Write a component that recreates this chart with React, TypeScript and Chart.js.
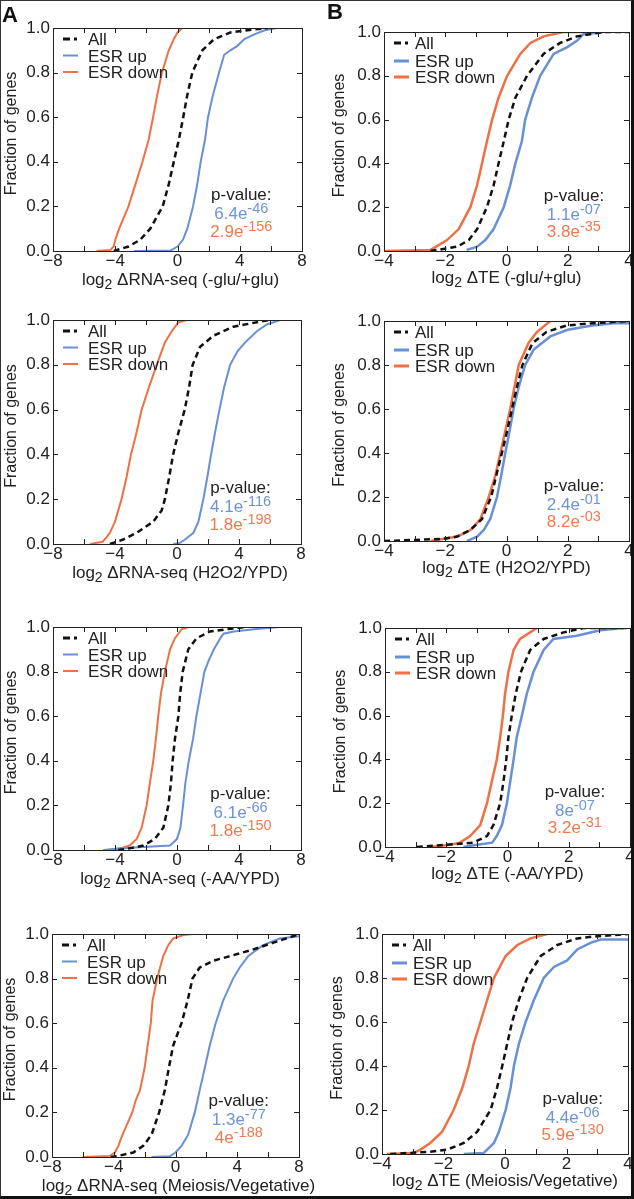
import React, { useEffect, useRef } from "react";
import { Chart, registerables } from "chart.js";

Chart.register(...registerables);

const FONT = '"Liberation Sans", Arial, Helvetica, sans-serif';
const BLUE = "#6890d4";
const ORANGE = "#ef7044";
const BLUE_TXT = "#6d93d8";
const ORANGE_TXT = "#f07a4e";
const INK = "#222222";

type Pt = [number, number];

// ---------- tick labels ----------
const fractionTicks = [0, 0.2, 0.4, 0.6, 0.8, 1.0];
const rnaTicks = [-8, -4, 0, 4, 8];
const rnaMinorTicks = [-8, -6, -4, -2, 0, 2, 4, 6, 8];
const teTicks = [-4, -2, 0, 2, 4];
const teMinorTicks = [-4, -3, -2, -1, 0, 1, 2, 3, 4];
const seriesLabels = ["All", "ESR up", "ESR down"];

// ---------- x-axis titles ----------
const rnaTitles = [
  "ΔRNA-seq (-glu/+glu)",
  "ΔRNA-seq (H2O2/YPD)",
  "ΔRNA-seq (-AA/YPD)",
  "ΔRNA-seq (Meiosis/Vegetative)",
];
const teTitles = [
  "ΔTE (-glu/+glu)",
  "ΔTE (H2O2/YPD)",
  "ΔTE (-AA/YPD)",
  "ΔTE (Meiosis/Vegetative)",
];

// ---------- p-values (A1..A4, B1..B4) ----------
const pUpMantissa = ["6.4e", "4.1e", "6.1e", "1.3e", "1.1e", "2.4e", "8e", "4.4e"];
const pUpExponent = ["-46", "-116", "-66", "-77", "-07", "-01", "-07", "-06"];
const pDownMantissa = ["2.9e", "1.8e", "1.8e", "4e", "3.8e", "8.2e", "3.2e", "5.9e"];
const pDownExponent = ["-156", "-198", "-150", "-188", "-35", "-03", "-31", "-130"];

// ---------- cumulative distributions [log2 change, fraction of genes] ----------
const a1All: Pt[] = [[-4.1,0],[-3.15,0.02],[-2.4,0.05],[-1.75,0.1],[-0.95,0.2],[-0.56,0.3],[-0.24,0.4],[0.09,0.5],[0.37,0.6],[0.63,0.7],[0.95,0.8],[1.27,0.85],[1.6,0.9],[2.35,0.95],[3.4,0.98],[4.5,0.99],[5.8,1]];
const a1Up: Pt[] = [[-2.8,0],[-0.45,0.002],[0.0,0.02],[0.35,0.05],[0.63,0.1],[1.0,0.2],[1.27,0.3],[1.49,0.4],[1.77,0.5],[1.96,0.6],[2.28,0.7],[2.67,0.8],[3.0,0.88],[3.4,0.9],[3.85,0.92],[4.3,0.95],[4.9,0.97],[5.6,0.99],[6.4,1]];
const a1Down: Pt[] = [[-5.2,0],[-4.3,0.005],[-4.1,0.02],[-4.0,0.05],[-3.75,0.1],[-3.15,0.2],[-2.7,0.3],[-2.25,0.4],[-1.85,0.5],[-1.57,0.6],[-1.3,0.7],[-1.0,0.8],[-0.56,0.9],[-0.24,0.95],[0.0,0.98],[0.3,1],[1.05,1]];

const a2All: Pt[] = [[-4.33,0],[-3.47,0.02],[-2.6,0.05],[-1.53,0.1],[-0.99,0.15],[-0.78,0.2],[-0.5,0.3],[-0.25,0.4],[0.1,0.5],[0.5,0.6],[0.78,0.7],[1.01,0.8],[1.49,0.88],[2.35,0.93],[3.64,0.97],[5.15,0.99],[6.0,1]];
const a2Up: Pt[] = [[-0.24,0],[0.2,0.005],[0.52,0.02],[1.06,0.05],[1.38,0.1],[1.7,0.2],[1.96,0.3],[2.2,0.4],[2.46,0.5],[2.74,0.6],[3.04,0.7],[3.43,0.8],[3.9,0.86],[4.4,0.9],[5.15,0.95],[5.8,0.98],[6.66,1],[8,1]];
const a2Down: Pt[] = [[-5.6,0],[-4.8,0.01],[-4.55,0.03],[-4.33,0.05],[-4.0,0.1],[-3.58,0.2],[-3.25,0.3],[-2.97,0.4],[-2.6,0.5],[-2.28,0.6],[-1.81,0.7],[-1.31,0.8],[-0.78,0.9],[-0.34,0.95],[0.1,0.99],[0.63,1]];

const a3All: Pt[] = [[-3.8,0],[-3.24,0.005],[-2.17,0.02],[-1.42,0.05],[-0.88,0.1],[-0.56,0.2],[-0.39,0.3],[-0.28,0.4],[-0.13,0.5],[0.09,0.6],[0.2,0.7],[0.37,0.8],[0.73,0.9],[1.27,0.95],[2.13,0.98],[3.2,0.99],[4.5,1]];
const a3Up: Pt[] = [[-4.76,0],[-3.0,0.01],[-0.45,0.02],[0.0,0.05],[0.22,0.1],[0.39,0.2],[0.54,0.3],[0.76,0.4],[1.04,0.5],[1.25,0.6],[1.51,0.7],[1.77,0.8],[2.05,0.85],[2.38,0.9],[2.8,0.95],[3.0,0.97],[3.67,0.98],[4.97,0.99],[6.6,1]];
const a3Down: Pt[] = [[-4.5,0],[-3.5,0.01],[-3.05,0.02],[-2.6,0.05],[-2.28,0.1],[-1.96,0.2],[-1.75,0.3],[-1.53,0.4],[-1.36,0.5],[-1.21,0.6],[-1.04,0.7],[-0.78,0.8],[-0.45,0.9],[-0.13,0.95],[0.3,0.99],[0.73,1]];

const a4All: Pt[] = [[-4.2,0],[-3.7,0.005],[-2.74,0.02],[-2.09,0.05],[-1.55,0.1],[-1.06,0.2],[-0.69,0.3],[-0.43,0.4],[-0.15,0.5],[0.39,0.6],[0.78,0.7],[1.1,0.8],[1.57,0.85],[2.44,0.88],[3.5,0.9],[5.0,0.93],[6.3,0.96],[7.6,0.99],[8,1]];
const a4Up: Pt[] = [[-1.55,0],[-0.37,0.003],[0.0,0.02],[0.39,0.05],[0.82,0.1],[1.25,0.2],[1.57,0.3],[1.9,0.4],[2.22,0.5],[2.6,0.6],[3.08,0.7],[3.73,0.8],[4.16,0.85],[4.7,0.9],[5.67,0.95],[6.75,0.98],[8,0.99]];
const a4Down: Pt[] = [[-6.0,0],[-4.25,0.005],[-3.92,0.02],[-3.7,0.05],[-3.43,0.1],[-2.8,0.2],[-2.6,0.25],[-2.3,0.3],[-2.0,0.4],[-1.8,0.5],[-1.6,0.6],[-1.49,0.7],[-1.19,0.8],[-0.8,0.9],[-0.47,0.95],[-0.15,0.98],[0.5,0.995],[1.14,1]];

const b1All: Pt[] = [[-2.48,0],[-1.6,0.02],[-1.23,0.05],[-0.96,0.1],[-0.64,0.2],[-0.42,0.3],[-0.26,0.4],[-0.09,0.5],[0.07,0.6],[0.29,0.7],[0.67,0.8],[1.21,0.9],[1.75,0.95],[2.3,0.98],[3.17,1],[4,1]];
const b1Up: Pt[] = [[-1.3,0.005],[-0.96,0.02],[-0.69,0.05],[-0.42,0.1],[-0.09,0.2],[0.12,0.3],[0.29,0.4],[0.5,0.5],[0.61,0.6],[0.83,0.7],[1.1,0.8],[1.32,0.85],[1.54,0.9],[1.97,0.93],[2.3,0.96],[2.51,0.99],[3.17,1]];
const b1Down: Pt[] = [[-4,0],[-2.48,0.005],[-2.3,0.02],[-1.94,0.05],[-1.56,0.1],[-1.18,0.2],[-0.96,0.3],[-0.8,0.4],[-0.64,0.5],[-0.47,0.6],[-0.26,0.7],[0.02,0.8],[0.45,0.9],[0.78,0.95],[1.21,0.98],[1.86,1],[2.5,1]];

const b2All: Pt[] = [[-4,0],[-2.05,0.01],[-1.61,0.02],[-1.18,0.05],[-0.8,0.1],[-0.5,0.2],[-0.33,0.3],[-0.15,0.4],[0.02,0.5],[0.18,0.6],[0.34,0.7],[0.52,0.8],[0.85,0.9],[1.3,0.95],[1.97,0.98],[2.84,0.99],[4,1]];
const b2Up: Pt[] = [[-1.29,0],[-0.96,0.02],[-0.74,0.05],[-0.53,0.1],[-0.31,0.2],[-0.17,0.3],[-0.04,0.4],[0.1,0.5],[0.23,0.6],[0.4,0.7],[0.61,0.8],[0.89,0.87],[1.43,0.93],[2.0,0.96],[2.8,0.98],[3.5,0.99],[4,0.99]];
const b2Down: Pt[] = [[-2.48,0],[-1.61,0.02],[-1.18,0.05],[-0.85,0.1],[-0.58,0.2],[-0.36,0.3],[-0.2,0.4],[-0.04,0.5],[0.12,0.6],[0.26,0.7],[0.4,0.8],[0.72,0.9],[0.99,0.95],[1.43,1]];

const b3All: Pt[] = [[-2.96,0],[-1.11,0.02],[-0.67,0.05],[-0.46,0.1],[-0.24,0.2],[-0.13,0.3],[-0.04,0.4],[0.03,0.5],[0.14,0.6],[0.27,0.7],[0.44,0.8],[0.74,0.9],[1.18,0.95],[1.83,0.98],[2.48,1],[4,1]];
const b3Up: Pt[] = [[-1.44,0],[-1.0,0.01],[-0.5,0.02],[-0.35,0.05],[-0.18,0.1],[-0.02,0.2],[0.09,0.3],[0.2,0.4],[0.3,0.5],[0.47,0.6],[0.63,0.7],[0.85,0.8],[1.18,0.9],[1.5,0.95],[2.26,0.965],[3.03,0.99],[3.8,1]];
const b3Down: Pt[] = [[-2.52,0],[-1.87,0.01],[-1.55,0.02],[-1.22,0.05],[-0.89,0.1],[-0.67,0.2],[-0.51,0.3],[-0.35,0.4],[-0.24,0.5],[-0.15,0.6],[-0.08,0.7],[0.03,0.8],[0.2,0.9],[0.41,0.95],[0.96,1]];

const b4All: Pt[] = [[-3.73,0],[-2.43,0.01],[-1.88,0.02],[-1.34,0.05],[-0.91,0.1],[-0.47,0.2],[-0.26,0.3],[-0.09,0.4],[0.07,0.5],[0.23,0.6],[0.45,0.7],[0.72,0.8],[1.16,0.9],[1.7,0.95],[2.35,0.98],[3.0,0.99],[4,1]];
const b4Up: Pt[] = [[-1.34,0],[-0.69,0.005],[-0.58,0.02],[-0.36,0.05],[-0.2,0.1],[0.02,0.2],[0.18,0.3],[0.29,0.4],[0.45,0.5],[0.67,0.6],[0.94,0.7],[1.26,0.8],[1.59,0.85],[2.02,0.88],[2.35,0.93],[2.78,0.96],[3.11,0.975],[4,0.975]];
const b4Down: Pt[] = [[-3.84,0],[-2.97,0.005],[-2.75,0.02],[-2.43,0.05],[-2.05,0.1],[-1.67,0.2],[-1.39,0.3],[-1.18,0.4],[-1.02,0.5],[-0.8,0.6],[-0.58,0.7],[-0.36,0.8],[0.02,0.9],[0.4,0.95],[0.83,0.98],[1.37,1]];

// ---------- layout (page pixels: left, top, right, bottom of plot area) ----------
type Panel = {
  kind: "A" | "B";
  plot: [number, number, number, number];
  all: Pt[];
  up: Pt[];
  down: Pt[];
  title: string;
  idx: number;
};

const panels: Panel[] = [
  { kind: "A", plot: [53, 28, 302, 251], all: a1All, up: a1Up, down: a1Down, title: rnaTitles[0], idx: 0 },
  { kind: "A", plot: [53, 320, 301, 544], all: a2All, up: a2Up, down: a2Down, title: rnaTitles[1], idx: 1 },
  { kind: "A", plot: [53, 627, 301, 850], all: a3All, up: a3Up, down: a3Down, title: rnaTitles[2], idx: 2 },
  { kind: "A", plot: [52, 934, 299, 1157], all: a4All, up: a4Up, down: a4Down, title: rnaTitles[3], idx: 3 },
  { kind: "B", plot: [384, 32, 629, 251], all: b1All, up: b1Up, down: b1Down, title: teTitles[0], idx: 4 },
  { kind: "B", plot: [384, 321, 629, 541], all: b2All, up: b2Up, down: b2Down, title: teTitles[1], idx: 5 },
  { kind: "B", plot: [385, 628, 630, 847], all: b3All, up: b3Up, down: b3Down, title: teTitles[2], idx: 6 },
  { kind: "B", plot: [382, 934, 628, 1154], all: b4All, up: b4Up, down: b4Down, title: teTitles[3], idx: 7 },
];

const PAD_TOP = 14;
const X_AXIS_H = 45;

type Part = { t: string; size: number; dy: number; color: string };

function drawParts(ctx: CanvasRenderingContext2D, parts: Part[], cx: number, baseline: number) {
  let total = 0;
  const widths = parts.map((p) => {
    ctx.font = `${p.size}px ${FONT}`;
    const w = ctx.measureText(p.t).width;
    total += w;
    return w;
  });
  let x = cx - total / 2;
  ctx.textAlign = "left";
  ctx.textBaseline = "alphabetic";
  parts.forEach((p, i) => {
    ctx.font = `${p.size}px ${FONT}`;
    ctx.fillStyle = p.color;
    ctx.fillText(p.t, x, baseline + p.dy);
    x += widths[i];
  });
}

function makeDecor(p: Panel) {
  const isA = p.kind === "A";
  const minorX = isA ? rnaMinorTicks : teMinorTicks;
  return {
    id: "decor" + p.idx,
    afterDraw(chart: any) {
      const ctx: CanvasRenderingContext2D = chart.ctx;
      const a = chart.chartArea;
      const xs = chart.scales.x;
      const ys = chart.scales.y;
      ctx.save();
      // inward tick marks on all four sides
      ctx.strokeStyle = INK;
      ctx.lineWidth = 1;
      ctx.setLineDash([]);
      ctx.beginPath();
      for (const v of minorX) {
        const px = Math.round(xs.getPixelForValue(v)) + 0.5;
        ctx.moveTo(px, a.bottom);
        ctx.lineTo(px, a.bottom - 5);
        ctx.moveTo(px, a.top);
        ctx.lineTo(px, a.top + 5);
      }
      for (const v of fractionTicks) {
        const py = Math.round(ys.getPixelForValue(v)) + 0.5;
        ctx.moveTo(a.left, py);
        ctx.lineTo(a.left + 5, py);
        ctx.moveTo(a.right, py);
        ctx.lineTo(a.right - 5, py);
      }
      ctx.stroke();
      // frame
      ctx.strokeRect(
        Math.round(a.left) + 0.5,
        Math.round(a.top) + 0.5,
        Math.round(a.right - a.left),
        Math.round(a.bottom - a.top)
      );

      // legend
      const rows = isA ? [11, 27.5, 44] : [11, 29, 45];
      const textX = a.left + (isA ? 35 : 31);
      const sw0 = a.left + 10;
      const sw1 = a.left + 25;
      const lw = isA ? 2 : 3;
      rows.forEach((dy, i) => {
        const y = a.top + dy;
        ctx.lineWidth = i === 0 ? 3 : lw;
        ctx.strokeStyle = i === 0 ? "#111" : i === 1 ? BLUE : ORANGE;
        ctx.beginPath();
        if (i === 0) {
          ctx.moveTo(sw0, y);
          ctx.lineTo(sw0 + 7, y);
          ctx.moveTo(sw0 + 11, y);
          ctx.lineTo(sw0 + 14, y);
        } else {
          ctx.moveTo(sw0, y);
          ctx.lineTo(sw1, y);
        }
        ctx.stroke();
        ctx.font = `17px ${FONT}`;
        ctx.fillStyle = INK;
        ctx.textAlign = "left";
        ctx.textBaseline = "alphabetic";
        ctx.fillText(seriesLabels[i], textX, y + 6);
      });

      // p-values
      const pcx = xs.getPixelForValue(isA ? 4.1 : 2.2);
      const yP = ys.getPixelForValue(0.255);
      const yU = ys.getPixelForValue(0.17);
      const yD = ys.getPixelForValue(0.09);
      drawParts(ctx, [{ t: "p-value:", size: 17, dy: 0, color: INK }], pcx, yP + 6);
      drawParts(
        ctx,
        [
          { t: pUpMantissa[p.idx], size: 17, dy: 0, color: BLUE_TXT },
          { t: pUpExponent[p.idx], size: 14.5, dy: -6, color: BLUE_TXT },
        ],
        pcx,
        yU + 6
      );
      drawParts(
        ctx,
        [
          { t: pDownMantissa[p.idx], size: 17, dy: 0, color: ORANGE_TXT },
          { t: pDownExponent[p.idx], size: 14.5, dy: -6, color: ORANGE_TXT },
        ],
        pcx,
        yD + 6
      );

      // x-axis title with subscript
      const tcx = (a.left + a.right) / 2 + (isA ? 3 : 0);
      const tBase = a.bottom + (isA ? 28 : 26) + 6;
      drawParts(
        ctx,
        [
          { t: "log", size: 17, dy: 0, color: INK },
          { t: "2", size: 14, dy: 4, color: INK },
          { t: " " + p.title, size: 17, dy: 0, color: INK },
        ],
        tcx,
        tBase
      );

      // y-axis title
      ctx.save();
      const yx = a.left - (isA ? 41 : 44);
      const yy = (a.top + a.bottom) / 2 - 6;
      ctx.translate(yx, yy);
      ctx.rotate(-Math.PI / 2);
      ctx.font = `16px ${FONT}`;
      ctx.fillStyle = INK;
      ctx.textAlign = "center";
      ctx.textBaseline = "middle";
      ctx.fillText("Fraction of genes", 0, 0);
      ctx.restore();

      ctx.restore();
    },
  };
}

function toPts(arr: Pt[]) {
  return arr.map(([x, y]) => ({ x, y }));
}

function PanelChart({ p }: { p: Panel }) {
  const ref = useRef<HTMLCanvasElement | null>(null);
  const isA = p.kind === "A";
  const [pl, pt, pr, pb] = p.plot;
  const cl = isA ? 0 : 317;
  const cw = isA ? 317 : 330;
  const yAxisW = pl - cl;
  const padRight = cw - (pr - cl);
  const ct = pt - PAD_TOP;
  const ch = PAD_TOP + (pb - pt) + X_AXIS_H;
  const lw = isA ? 2 : 2.5;

  useEffect(() => {
    if (!ref.current) return;
    const majorX = isA ? rnaTicks : teTicks;
    const chart = new Chart(ref.current, {
      type: "scatter",
      data: {
        datasets: [
          {
            label: seriesLabels[0],
            data: toPts(p.all),
            showLine: true,
            borderColor: "#111",
            borderWidth: 2.5,
            borderDash: [6, 4],
            pointRadius: 0,
            fill: false,
          },
          {
            label: seriesLabels[1],
            data: toPts(p.up),
            showLine: true,
            borderColor: BLUE,
            borderWidth: lw,
            pointRadius: 0,
            fill: false,
          },
          {
            label: seriesLabels[2],
            data: toPts(p.down),
            showLine: true,
            borderColor: ORANGE,
            borderWidth: lw,
            pointRadius: 0,
            fill: false,
          },
        ],
      },
      options: {
        animation: false,
        responsive: false,
        devicePixelRatio: 1,
        events: [],
        layout: { padding: { left: 0, top: PAD_TOP, right: padRight, bottom: 0 } },
        plugins: { legend: { display: false }, tooltip: { enabled: false } },
        scales: {
          x: {
            type: "linear",
            min: majorX[0],
            max: majorX[majorX.length - 1],
            grid: { display: false, drawTicks: false },
            border: { display: false },
            ticks: {
              font: { family: FONT, size: 17 },
              color: INK,
              padding: 0,
              autoSkip: false,
              maxRotation: 0,
              callback: (v: any) => String(v).replace("-", "\u2212"),
            },
            afterBuildTicks: (s: any) => {
              s.ticks = majorX.map((v) => ({ value: v }));
            },
            afterFit: (s: any) => {
              s.height = X_AXIS_H;
            },
          },
          y: {
            type: "linear",
            min: 0,
            max: 1,
            grid: { display: false, drawTicks: false },
            border: { display: false },
            ticks: {
              font: { family: FONT, size: 17 },
              color: INK,
              padding: 3,
              callback: (v: any) => Number(v).toFixed(1),
            },
            afterBuildTicks: (s: any) => {
              s.ticks = fractionTicks.map((v) => ({ value: v }));
            },
            afterFit: (s: any) => {
              s.width = yAxisW;
            },
          },
        },
      },
      plugins: [makeDecor(p)],
    } as any);
    return () => chart.destroy();
  }, []);

  return (
    <canvas
      ref={ref}
      width={cw}
      height={ch}
      style={{ position: "absolute", left: cl, top: ct, width: cw, height: ch }}
    />
  );
}

export default function App() {
  return (
    <div
      style={{
        position: "absolute",
        left: 0,
        top: 0,
        width: 634,
        height: 1199,
        overflow: "hidden",
        background: "#fff",
        fontFamily: FONT,
      }}
    >
      {panels.map((p) => (
        <PanelChart key={p.idx} p={p} />
      ))}
      <div
        style={{
          position: "absolute",
          left: 2,
          top: 4,
          fontSize: 22,
          lineHeight: "22px",
          fontWeight: "bold",
          color: "#111",
        }}
      >
        A
      </div>
      <div
        style={{
          position: "absolute",
          left: 327,
          top: 1,
          fontSize: 22,
          lineHeight: "22px",
          fontWeight: "bold",
          color: "#111",
        }}
      >
        B
      </div>
      <div
        style={{
          position: "absolute",
          left: 0,
          top: 0,
          width: 634,
          height: 1199,
          boxSizing: "border-box",
          borderTop: "1px solid #333",
          borderLeft: "1px solid #333",
          borderRight: "3px solid #111",
          borderBottom: "3px solid #111",
          pointerEvents: "none",
        }}
      />
    </div>
  );
}
